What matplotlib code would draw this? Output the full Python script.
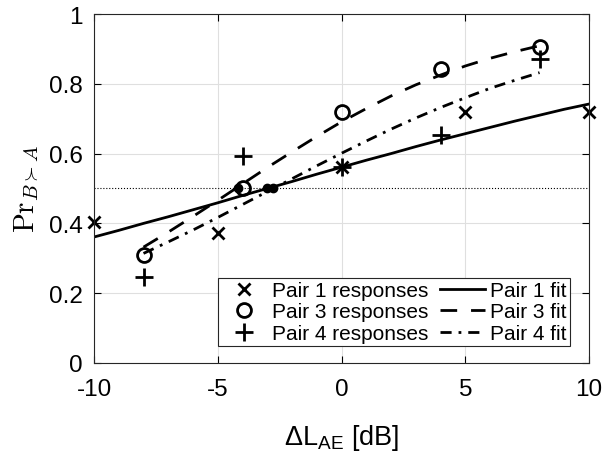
import matplotlib
matplotlib.use('Agg')
import matplotlib.pyplot as plt

plt.rcParams['font.family'] = ['Liberation Sans', 'DejaVu Sans']
plt.rcParams['mathtext.fontset'] = 'custom'
plt.rcParams['mathtext.rm'] = 'Liberation Sans'
plt.rcParams['mathtext.it'] = 'Liberation Sans:italic'

# measured responses
x_pair1 = [-10, -5, 0, 5, 10]
y_pair1 = [0.405, 0.373, 0.562, 0.719, 0.719]
x_pair3 = [-8, -4, 0, 4, 8]
y_pair3 = [0.309, 0.500, 0.719, 0.842, 0.905]
x_pair4 = [-8, -4, 0, 4, 8]
y_pair4 = [0.247, 0.593, 0.562, 0.654, 0.872]

# fitted curves
fit1_x = list(range(-10, 11))
fit1_y = [0.361, 0.380, 0.400, 0.419, 0.439, 0.459, 0.480, 0.500, 0.520, 0.541, 0.561,
          0.581, 0.600, 0.620, 0.639, 0.657, 0.675, 0.693, 0.710, 0.727, 0.742]
fit3_x = list(range(-8, 9))
fit3_y = [0.332, 0.375, 0.420, 0.466, 0.513, 0.560, 0.605, 0.649, 0.691,
          0.729, 0.765, 0.797, 0.825, 0.851, 0.873, 0.892, 0.909]
fit4_x = list(range(-8, 9))
fit4_y = [0.314, 0.347, 0.381, 0.417, 0.454, 0.491, 0.528, 0.565, 0.601,
          0.636, 0.670, 0.702, 0.732, 0.760, 0.787, 0.810, 0.832]

# 50% points of each fit
pse_x = [-3.0, -4.2, -2.75]
pse_y = [0.5, 0.5, 0.5]

fig = plt.figure(figsize=(6.05, 4.56), dpi=100)
ax = fig.add_axes([0.1554, 0.2018, 0.8182, 0.7653])

ax.axhline(0.5, color='black', linestyle=':', linewidth=0.8, zorder=2)

m1, = ax.plot(x_pair1, y_pair1, 'x', color='black', markersize=9, mew=2, linestyle='none',
              clip_on=False, label='Pair 1 responses')
m3, = ax.plot(x_pair3, y_pair3, 'o', color='black', markersize=10, mew=2, mfc='none', linestyle='none',
              clip_on=False, label='Pair 3 responses')
m4, = ax.plot(x_pair4, y_pair4, '+', color='black', markersize=13, mew=2, linestyle='none',
              clip_on=False, label='Pair 4 responses')

l1, = ax.plot(fit1_x, fit1_y, '-', color='black', linewidth=2, label='Pair 1 fit')
l3, = ax.plot(fit3_x, fit3_y, color='black', linewidth=2, dashes=(6, 5), label='Pair 3 fit')
l4, = ax.plot(fit4_x, fit4_y, color='black', linewidth=2, dashes=(4, 2.5, 1, 2.5), label='Pair 4 fit')

ax.plot(pse_x, pse_y, 'o', color='black', markersize=6, linestyle='none')

ax.set_xlim(-10, 10)
ax.set_ylim(0, 1)
ax.set_xticks([-10, -5, 0, 5, 10])
ax.set_xticklabels(['-10', '-5', '0', '5', '10'])
ax.set_yticks([0, 0.2, 0.4, 0.6, 0.8, 1])
ax.set_yticklabels(['0', '0.2', '0.4', '0.6', '0.8', '1'])
ax.tick_params(direction='in', top=True, right=True, labelsize=17.5, length=5, width=0.8)
ax.tick_params(axis='x', pad=11)
ax.tick_params(axis='y', pad=8)
ax.grid(True, color='#dfdfdf', linewidth=0.8)
ax.set_axisbelow(True)
for s in ax.spines.values():
    s.set_color('#262626')
    s.set_linewidth(0.8)

ax.set_xlabel(r'$\Delta$L$_{\mathrm{AE}}$ [dB]', fontsize=19.5, labelpad=16)
ax.set_ylabel(r'$\mathrm{Pr}_{B\succ A}$', fontsize=21, math_fontfamily='cm', labelpad=6)

leg = ax.legend(handles=[m1, m3, m4, l1, l3, l4], ncol=2, loc='lower right',
                bbox_to_anchor=(0.9616, 0.0487), fontsize=15, frameon=True, fancybox=False,
                edgecolor='#262626', framealpha=1, borderpad=0.15, labelspacing=0.12,
                handlelength=2.15, handletextpad=0.25, columnspacing=0.6, borderaxespad=0)
leg.get_frame().set_linewidth(0.8)

fig.savefig('out.png', dpi=100)
